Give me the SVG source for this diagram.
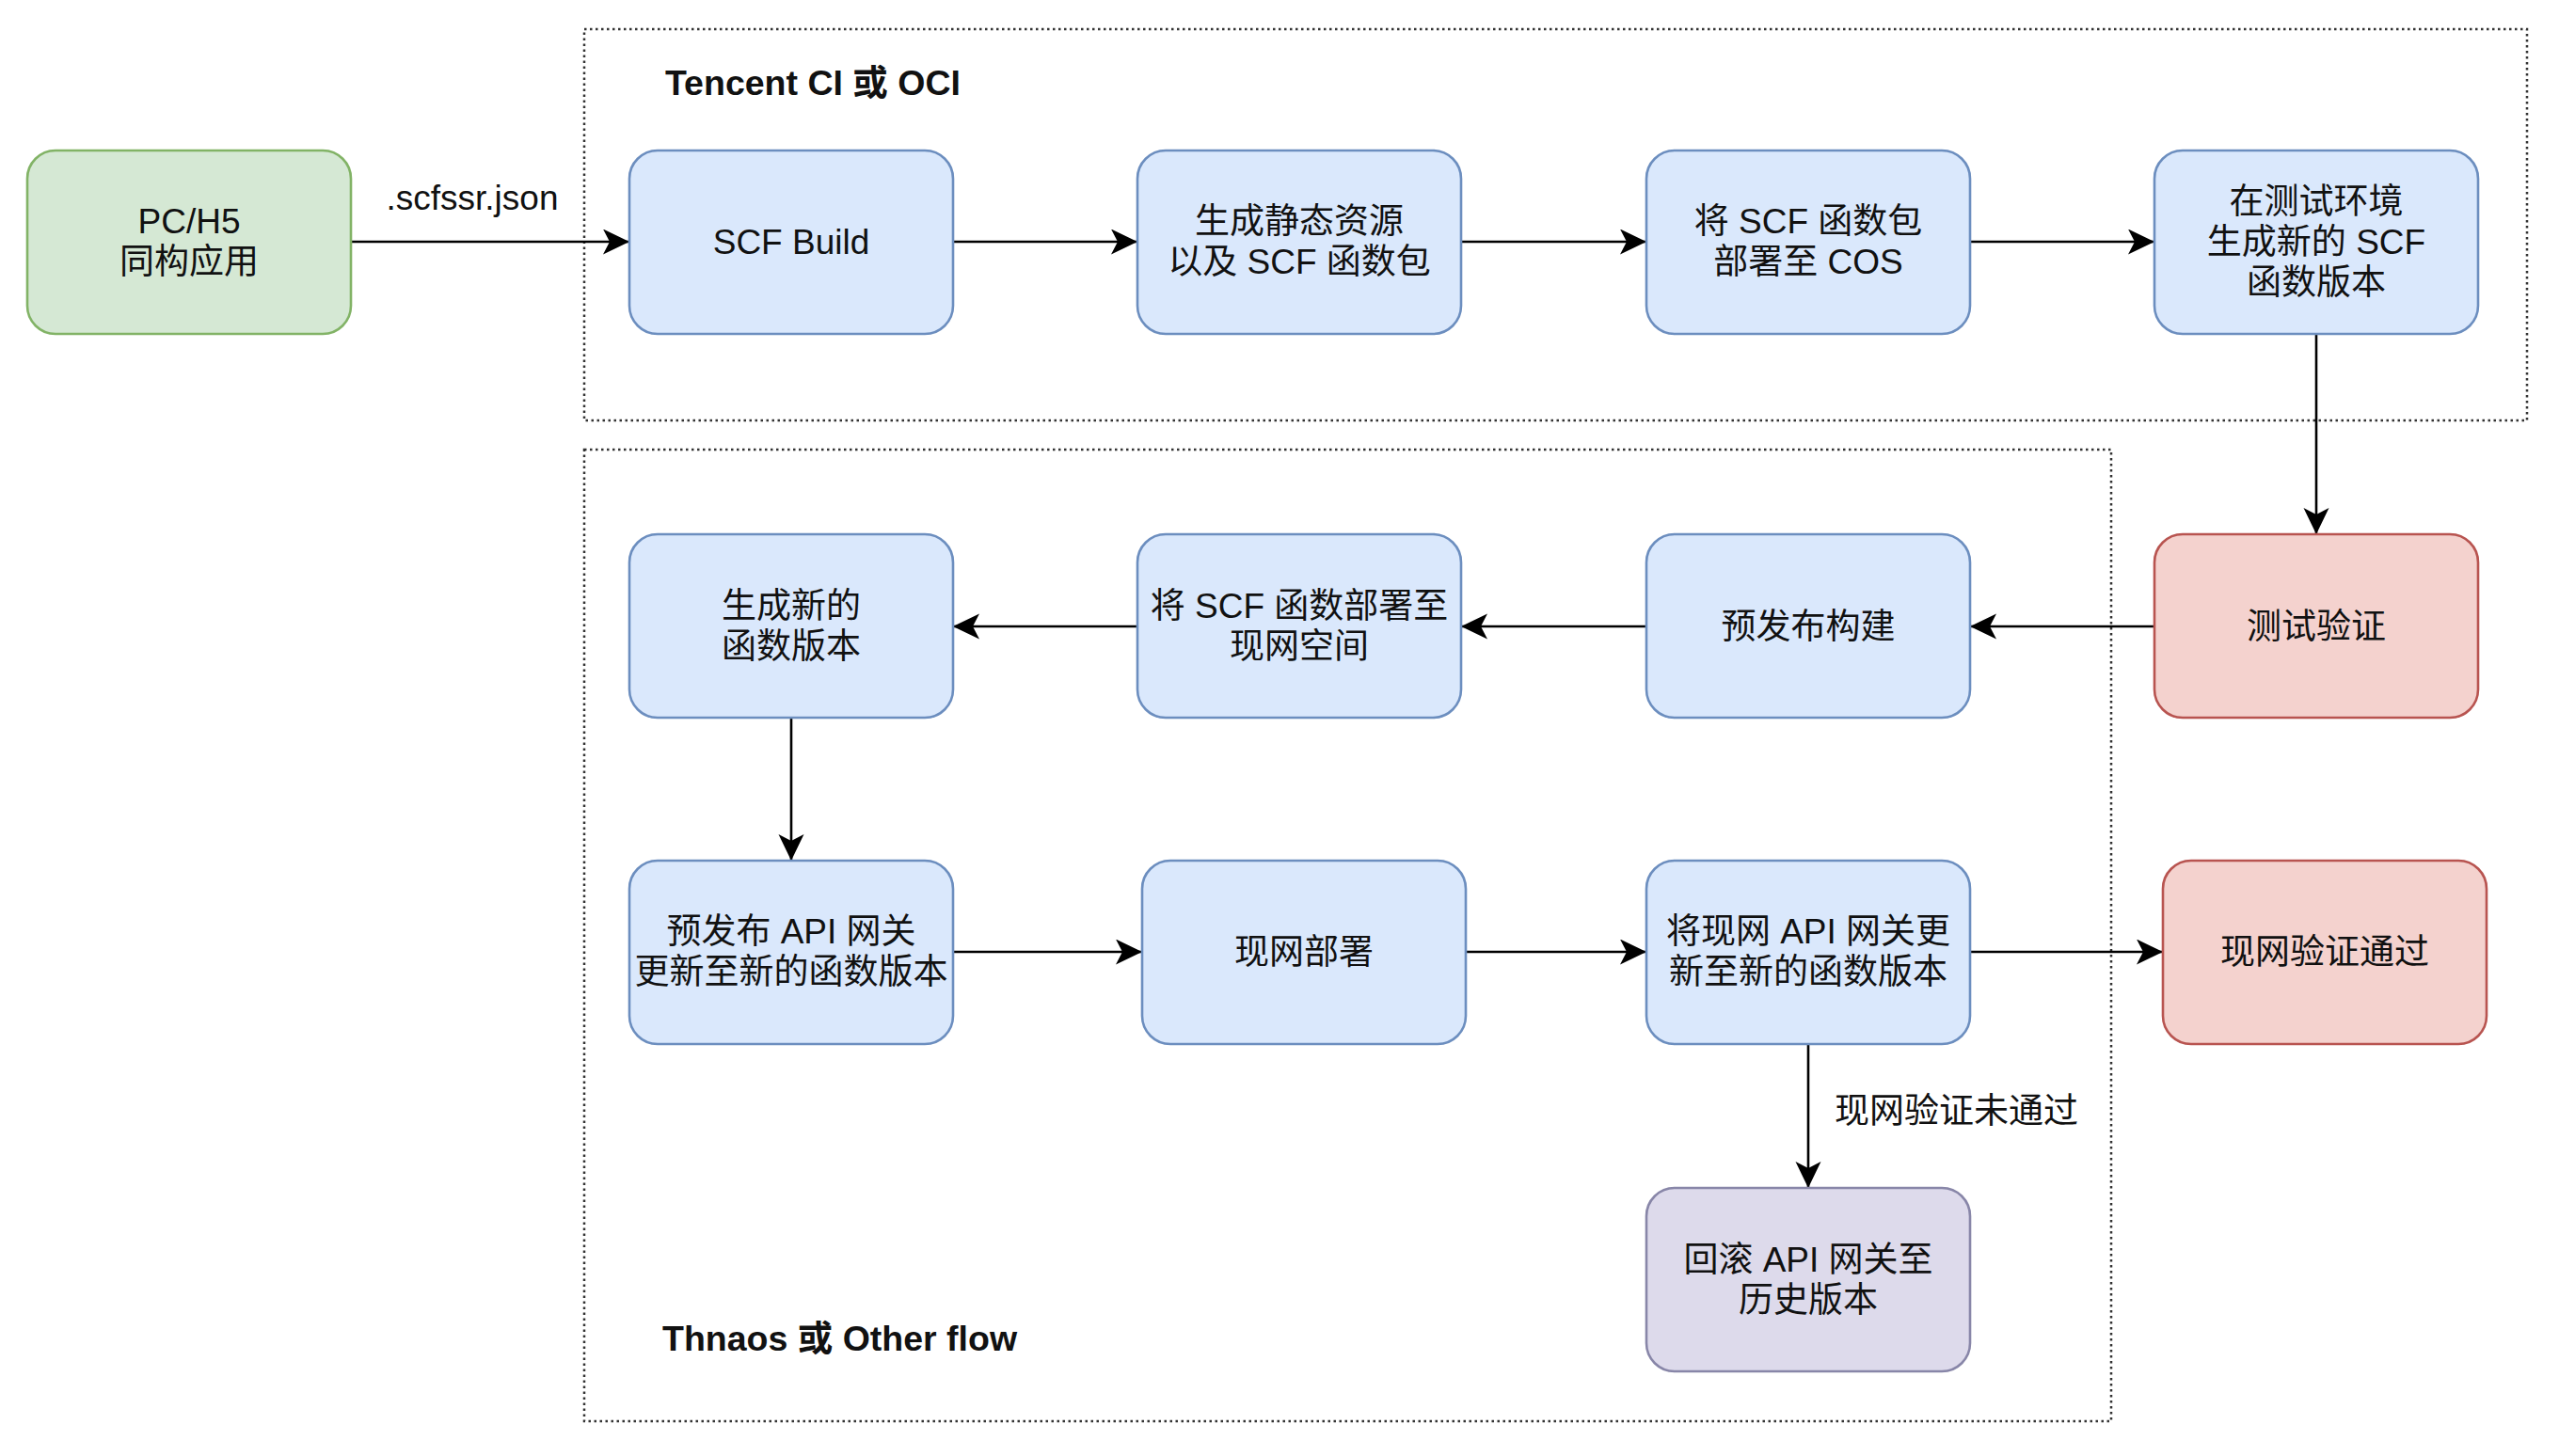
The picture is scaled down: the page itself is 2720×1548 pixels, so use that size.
<svg xmlns="http://www.w3.org/2000/svg" width="2720" height="1548" viewBox="0 0 2720 1548">
<style>
.node rect{stroke-width:2.6}
.blue rect{fill:#dae8fc;stroke:#6c8ebf}
.green rect{fill:#d5e8d4;stroke:#82b366}
.red rect{fill:#f4d2ce;stroke:#b85450}
.purple rect{fill:#dddaeb;stroke:#8886a8}
text{font-family:"Liberation Sans","Noto Sans CJK SC",sans-serif;font-size:37px;fill:#111}
.node text{text-anchor:middle}
.title{font-weight:bold;font-size:37.5px}
.group{fill:none;stroke:#333;stroke-width:2.5;stroke-dasharray:2.5 3.5}
.edge{fill:none;stroke:#000;stroke-width:2.6;marker-end:url(#arrow)}
</style>
<defs>
<marker id="arrow" markerUnits="userSpaceOnUse" markerWidth="30" markerHeight="28" refX="28" refY="13.5" orient="auto" viewBox="0 0 30 28">
<path d="M28,13.5 L0,0 L7,13.5 L0,27 Z" fill="#000"/>
</marker>
</defs>
<rect width="2720" height="1548" fill="#fff"/>
<g id="groups">
<rect id="group-ci" class="group" x="621" y="31" width="2065" height="416"/>
<rect id="group-flow" class="group" x="621" y="478" width="1623" height="1033"/>
<text class="title" x="707" y="101">Tencent CI 或 OCI</text>
<text class="title" x="704" y="1436">Thnaos 或 Other flow</text>
</g>
<g id="connectors">
<path class="edge" d="M373,257 H669"/>
<path class="edge" d="M1013,257 H1209"/>
<path class="edge" d="M1553,257 H1750"/>
<path class="edge" d="M2094,257 H2290"/>
<path class="edge" d="M2462,355 V568"/>
<path class="edge" d="M2290,666 H2094"/>
<path class="edge" d="M1750,666 H1553"/>
<path class="edge" d="M1209,666 H1013"/>
<path class="edge" d="M841,763 V915"/>
<path class="edge" d="M1013,1012 H1214"/>
<path class="edge" d="M1558,1012 H1750"/>
<path class="edge" d="M2094,1012 H2299"/>
<path class="edge" d="M1922,1110 V1263"/>
<text x="502" y="223" text-anchor="middle">.scfssr.json</text>
<text x="1950" y="1194">现网验证未通过</text>
</g>
<g id="n-app" class="node green"><rect x="29" y="160" width="344" height="195" rx="30"/><text x="201" y="248">PC/H5</text><text x="201" y="291">同构应用</text></g>
<g id="n-build" class="node blue"><rect x="669" y="160" width="344" height="195" rx="30"/><text x="841" y="270">SCF Build</text></g>
<g id="n-static" class="node blue"><rect x="1209" y="160" width="344" height="195" rx="30"/><text x="1381" y="248">生成静态资源</text><text x="1381" y="291">以及 SCF 函数包</text></g>
<g id="n-cos" class="node blue"><rect x="1750" y="160" width="344" height="195" rx="30"/><text x="1922" y="248">将 SCF 函数包</text><text x="1922" y="291">部署至 COS</text></g>
<g id="n-testver" class="node blue"><rect x="2290" y="160" width="344" height="195" rx="30"/><text x="2462" y="227">在测试环境</text><text x="2462" y="270">生成新的 SCF</text><text x="2462" y="313">函数版本</text></g>
<g id="n-test" class="node red"><rect x="2290" y="568" width="344" height="195" rx="30"/><text x="2462" y="679">测试验证</text></g>
<g id="n-prebuild" class="node blue"><rect x="1750" y="568" width="344" height="195" rx="30"/><text x="1922" y="679">预发布构建</text></g>
<g id="n-deploy" class="node blue"><rect x="1209" y="568" width="344" height="195" rx="30"/><text x="1381" y="657">将 SCF 函数部署至</text><text x="1381" y="700">现网空间</text></g>
<g id="n-newver" class="node blue"><rect x="669" y="568" width="344" height="195" rx="30"/><text x="841" y="657">生成新的</text><text x="841" y="700">函数版本</text></g>
<g id="n-pregw" class="node blue"><rect x="669" y="915" width="344" height="195" rx="30"/><text x="841" y="1003">预发布 API 网关</text><text x="841" y="1046">更新至新的函数版本</text></g>
<g id="n-prod" class="node blue"><rect x="1214" y="915" width="344" height="195" rx="30"/><text x="1386" y="1025">现网部署</text></g>
<g id="n-prodgw" class="node blue"><rect x="1750" y="915" width="344" height="195" rx="30"/><text x="1922" y="1003">将现网 API 网关更</text><text x="1922" y="1046">新至新的函数版本</text></g>
<g id="n-pass" class="node red"><rect x="2299" y="915" width="344" height="195" rx="30"/><text x="2471" y="1025">现网验证通过</text></g>
<g id="n-rollback" class="node purple"><rect x="1750" y="1263" width="344" height="195" rx="30"/><text x="1922" y="1352">回滚 API 网关至</text><text x="1922" y="1395">历史版本</text></g>
</svg>
